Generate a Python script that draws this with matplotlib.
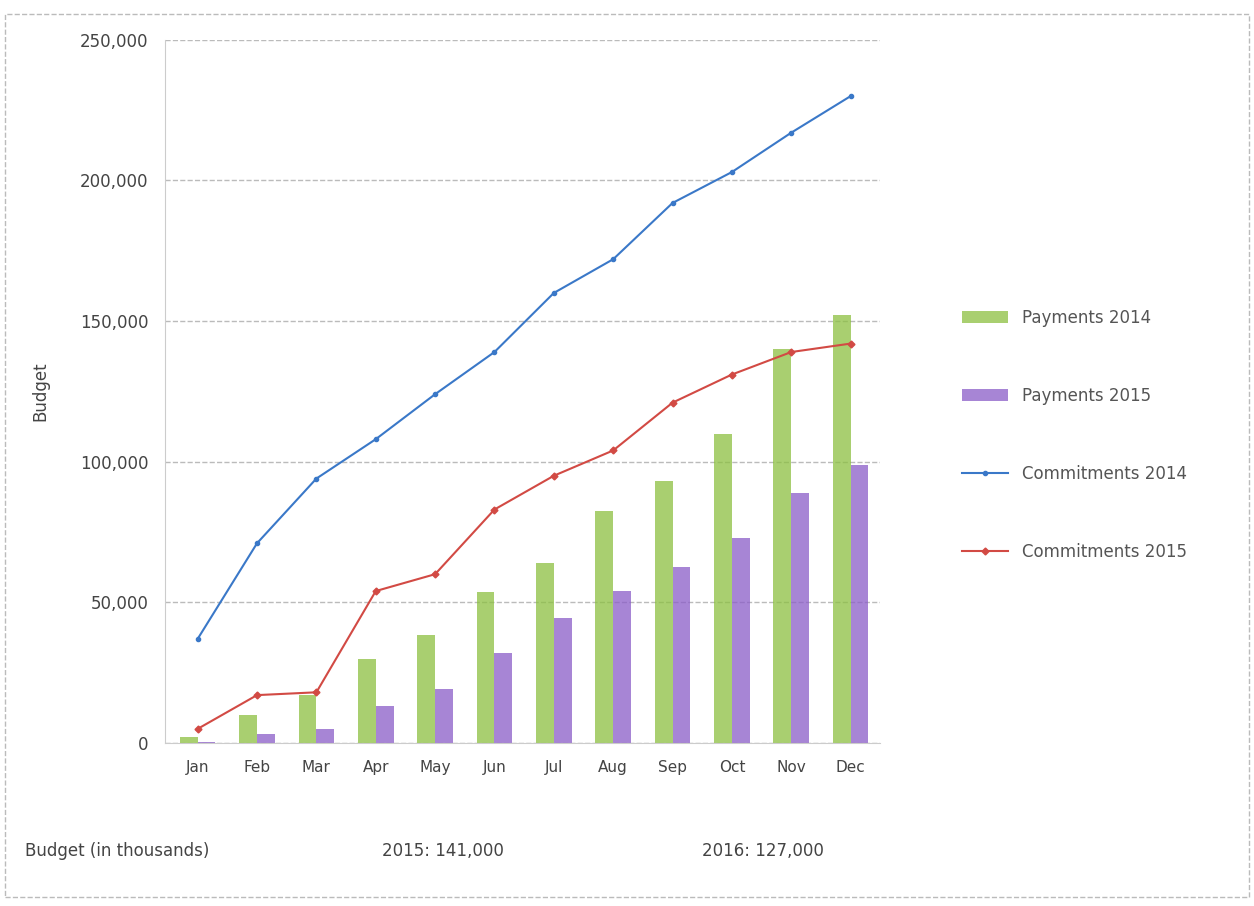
import matplotlib
matplotlib.use("Agg")
import matplotlib.pyplot as plt
import numpy as np
from matplotlib.patches import Rectangle

months = ["Jan", "Feb", "Mar", "Apr", "May", "Jun", "Jul", "Aug", "Sep", "Oct", "Nov", "Dec"]
payments_2014 = [2000, 10000, 17000, 30000, 38500, 53500, 64000, 82500, 93000, 110000, 140000, 152000]
payments_2015 = [500, 3000, 5000, 13000, 19000, 32000, 44500, 54000, 62500, 73000, 89000, 99000]
commitments_2014 = [37000, 71000, 94000, 108000, 124000, 139000, 160000, 172000, 192000, 203000, 217000, 230000]
commitments_2015 = [5000, 17000, 18000, 54000, 60000, 83000, 95000, 104000, 121000, 131000, 139000, 142000]
yticks = [0, 50000, 100000, 150000, 200000, 250000]
labels = ["Payments 2014", "Payments 2015", "Commitments 2014", "Commitments 2015"]
footer = ["Budget (in thousands)", "2015: 141,000", "2016: 127,000"]

green = "#8cc040"
purple = "#8a5cc8"
blue = "#3a78c8"
red = "#d24a44"

fig = plt.figure(figsize=(12.54, 9.06), dpi=100)
ax = fig.add_axes([0.1316, 0.18, 0.702 - 0.1316, 0.776])

x = np.arange(len(months))
w = 0.3
b1 = ax.bar(x - 0.15, payments_2014, width=w, color=green, alpha=0.75, label=labels[0], zorder=2)
b2 = ax.bar(x + 0.15, payments_2015, width=w, color=purple, alpha=0.75, label=labels[1], zorder=2)
l1, = ax.plot(x, commitments_2014, color=blue, lw=1.5, marker="o", ms=3, label=labels[2], zorder=3)
l2, = ax.plot(x, commitments_2015, color=red, lw=1.5, marker="D", ms=3.5, label=labels[3], zorder=3)

ax.set_xlim(-0.55, 11.5)
ax.set_ylim(0, 250000)
ax.set_xticks(x)
ax.set_xticklabels(months, fontsize=11, color="#444444")
ax.set_yticks(yticks)
ax.set_yticklabels([f"{v:,}" for v in yticks], fontsize=12, color="#444444")
ax.tick_params(axis="both", length=0, pad=12)
ax.grid(axis="y", color="#bbbbbb", linestyle="--", lw=1, zorder=0)
for s in ["top", "right"]:
    ax.spines[s].set_visible(False)
ax.spines["left"].set_color("#cccccc")
ax.spines["bottom"].set_color("#cccccc")
ax.set_ylabel("Budget", fontsize=12, color="#444444", labelpad=22)

fig.legend(handles=[b1, b2, l1, l2], labels=labels, loc="center left",
           bbox_to_anchor=(0.755, 0.52), frameon=False, fontsize=12,
           labelspacing=3.6, handlelength=2.8, labelcolor="#555555")

fig.text(0.02, 0.055, footer[0], fontsize=12, color="#444444")
fig.text(0.305, 0.055, footer[1], fontsize=12, color="#444444")
fig.text(0.56, 0.055, footer[2], fontsize=12, color="#444444")

fig.patches.append(Rectangle((0.004, 0.01), 0.992, 0.975, transform=fig.transFigure,
                             fill=False, edgecolor="#bbbbbb", lw=1, ls="--"))

fig.savefig("out.png", dpi=100)
